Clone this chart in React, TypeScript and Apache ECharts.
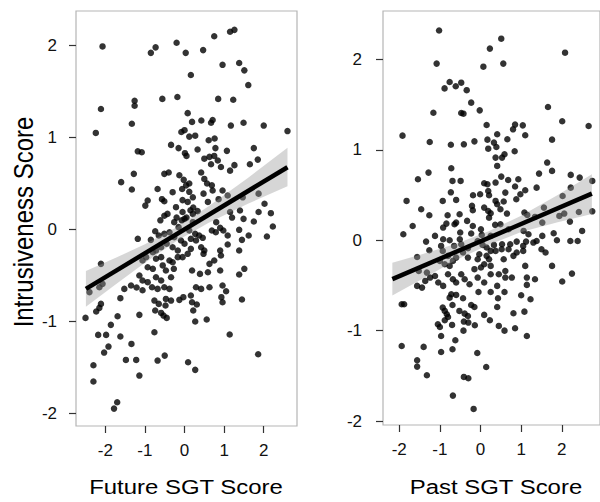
import React, { useEffect, useRef } from "react";
import * as echarts from "echarts";

// Tick positions shared by both panels
const tickValues = [-2, -1, 0, 1, 2];

// Future SGT score (x) vs intrusiveness score (y)
const futurePoints: number[][] = [
  [-2.07, 1.99], [-0.85, 1.92], [-0.73, 1.98], [-0.2, 2.03], [0.03, 1.92], [0.47, 1.95], [0.75, 2.1],
  [1.15, 2.15], [1.26, 2.17], [0.96, 1.79], [1.38, 1.81], [1.51, 1.73], [1.61, 1.57], [0.16, 1.68],
  [-2.11, 1.31], [-1.26, 1.4], [-1.26, 1.345], [-0.56, 1.42], [-0.18, 1.44], [0.85, 1.42], [1.23, 1.41],
  [-2.24, 1.05], [-1.33, 1.15], [0.08, 1.265], [0.19, 1.17], [0.425, 1.185], [0.67, 1.16], [0.71, 1.19],
  [1.17, 1.13], [1.49, 1.16], [2.0, 1.13], [2.6, 1.07], [-0.08, 1.06], [0.0, 1.08], [0.12, 1.01],
  [0.27, 1.02], [0.61, 0.97], [0.76, 0.99], [-0.34, 0.92], [-0.15, 0.885], [0.33, 0.87], [0.78, 0.885],
  [1.07, 0.855], [1.75, 0.885], [-1.18, 0.85], [-1.08, 0.84], [0.01, 0.83], [0.05, 0.8],
  [0.5, 0.77], [0.63, 0.79], [0.75, 0.8], [0.84, 0.75], [0.67, 0.71], [0.92, 0.68], [1.15, 0.64],
  [1.26, 0.7], [1.65, 0.71], [1.85, 0.76], [-1.28, 0.605], [-1.6, 0.515], [-1.33, 0.435], [-0.51, 0.605],
  [-0.4, 0.62], [-0.13, 0.59], [-0.02, 0.54], [0.12, 0.5], [0.42, 0.62], [0.5, 0.55], [0.57, 0.5],
  [0.69, 0.48], [0.71, 0.424], [0.96, 0.424], [-0.68, 0.44], [-0.3, 0.406], [-0.06, 0.44], [0.04, 0.48],
  [0.12, 0.41], [0.21, 0.35], [0.08, 0.3], [-0.05, 0.32], [-0.215, 0.243], [0.48, 0.39], [1.09, 0.37],
  [1.47, 0.35], [1.87, 0.39], [-0.93, 0.315], [-0.99, 0.26], [-0.57, 0.33], [-0.51, 0.308], [0.59, 0.3],
  [0.86, 0.33], [2.02, 0.28], [0.15, 0.21], [0.22, 0.24], [0.33, 0.2], [-0.43, 0.17], [-0.51, 0.15],
  [-0.05, 0.19], [-0.2, 0.13], [0.05, 0.13], [0.21, 0.17], [-0.61, 0.1], [-0.26, 0.08], [-0.15, 0.026],
  [-0.07, 0.1], [0.0, 0.116], [0.21, 0.08], [0.8, 0.08], [1.15, 0.19], [1.2, 0.13], [1.4, 0.207],
  [1.49, 0.116], [1.75, 0.087], [1.87, 0.19], [2.18, 0.178], [2.23, 0.033], [2.08, -0.076], [-0.74, -0.018],
  [-0.38, -0.029], [-0.85, -0.112], [-1.18, -0.101], [-0.65, -0.065], [-0.51, -0.047], [-0.26, -0.083],
  [0.12, -0.011], [0.27, -0.047], [0.37, -0.065], [0.46, -0.09], [0.69, -0.011], [0.79, -0.029],
  [0.9, 0.018], [0.98, -0.011], [1.09, -0.065], [1.38, -0.003], [1.62, -0.065], [1.45, -0.112],
  [1.09, -0.163], [0.16, -0.101], [0.29, -0.119], [-0.09, -0.119], [0.0, -0.155], [-0.45, -0.155],
  [-0.72, -0.228], [-0.59, -0.192], [-0.8, -0.246], [-0.3, -0.192], [-0.17, -0.228], [0.16, -0.21],
  [0.42, -0.192], [0.5, -0.228], [0.48, -0.264], [0.08, -0.264], [-0.05, -0.3], [0.9, -0.228],
  [1.38, -0.228], [-0.97, -0.3], [-1.06, -0.337], [-0.72, -0.318], [-0.59, -0.3], [-0.38, -0.337],
  [-0.3, -0.355], [-0.17, -0.3], [0.75, -0.337], [0.92, -0.282], [0.63, -0.373], [-2.11, -0.373],
  [-0.93, -0.41], [-0.8, -0.427], [-0.55, -0.39], [-0.47, -0.445], [-0.27, -0.427], [0.19, -0.445],
  [0.39, -0.482], [0.59, -0.464], [0.9, -0.445], [1.51, -0.427], [1.38, -0.489], [-1.14, -0.5],
  [-1.06, -0.554], [-0.93, -0.572], [-0.72, -0.518], [-0.59, -0.554], [-0.34, -0.518], [-1.35, -0.608],
  [-1.52, -0.645], [-2.07, -0.59], [-2.15, -0.627], [-0.82, -0.627], [-0.68, -0.645], [-0.51, -0.627],
  [-0.38, -0.645], [0.29, -0.627], [0.42, -0.645], [0.63, -0.627], [0.96, -0.608], [-1.21, -0.63],
  [-1.06, -0.66], [-2.4, -0.68], [1.05, -0.67],
  [-1.62, -0.746], [-2.11, -0.808], [-2.15, -0.851], [-2.23, -0.891], [-2.5, -0.96], [-1.69, -0.942],
  [-1.86, -1.036], [-1.14, -0.927], [-0.76, -0.772], [-0.65, -0.808], [-0.47, -0.754], [-0.34, -0.772],
  [-0.48, -0.826], [-0.74, -0.88], [-0.59, -0.906], [-0.53, -0.935], [-0.45, -0.96], [-0.13, -0.764],
  [-0.03, -0.735], [0.16, -0.717], [0.19, -0.79], [0.31, -0.815], [0.22, -0.88], [0.27, -1.0],
  [0.56, -0.978], [0.93, -0.735], [0.96, -0.79], [1.45, -0.76], [-2.18, -1.145], [-1.98, -1.145],
  [-1.62, -1.163], [-1.92, -1.272], [-2.03, -1.337], [-1.34, -1.243], [-0.76, -1.116], [1.14, -1.141],
  [-2.3, -1.475], [-1.48, -1.417], [-1.22, -1.417], [-0.68, -1.424], [-0.5, -1.37], [0.09, -1.442],
  [0.27, -1.525], [-1.14, -1.587], [1.86, -1.355], [-2.3, -1.652], [-1.7, -1.877], [-1.78, -1.946],
];

// Past SGT score (x) vs intrusiveness score (y)
const pastPoints: number[][] = [
  [-1.02, 2.32], [0.51, 2.23], [0.23, 2.12], [2.08, 2.075], [-1.08, 1.954], [0.07, 1.92], [0.56, 1.954],
  [-0.76, 1.75], [-0.475, 1.743], [-0.885, 1.68], [-0.61, 1.703], [-0.34, 1.66], [-0.23, 1.522],
  [-1.16, 1.41], [-0.475, 1.408], [-0.42, 1.4], [-0.02, 1.437], [1.66, 1.474], [2.01, 1.316],
  [2.66, 1.264], [0.15, 1.275], [0.85, 1.279], [0.8, 1.227], [1.04, 1.271], [1.1, 1.161], [0.41, 1.172],
  [0.66, 1.117], [-1.92, 1.157], [-1.25, 1.087], [-0.73, 1.057], [-0.41, 1.061], [-0.15, 1.094],
  [0.17, 1.113], [0.33, 1.08], [0.39, 1.032], [0.19, 1.013], [0.84, 0.984], [1.76, 1.113],
  [0.37, 0.914], [0.41, 0.822], [0.53, 0.914], [0.59, 0.951], [-0.72, 0.796], [-1.28, 0.748],
  [-1.54, 0.675], [-1.82, 0.435], [-1.46, 0.343], [-1.26, 0.276], [-1.67, 0.158], [-1.9, 0.066],
  [-0.69, 0.656], [-0.49, 0.656], [-0.73, 0.53], [-0.6, 0.446], [-0.93, 0.435], [-0.185, 0.498],
  [-0.01, 0.509], [0.09, 0.63], [0.17, 0.62], [0.19, 0.545], [0.21, 0.498], [0.37, 0.638], [0.51, 0.704],
  [0.68, 0.667], [0.85, 0.594], [0.93, 0.675], [1.1, 0.553], [0.98, 0.509], [1.44, 0.737], [1.64, 0.859],
  [1.76, 0.767], [1.38, 0.582], [2.22, 0.723], [0.37, 0.435], [0.41, 0.398], [0.61, 0.527], [0.57, 0.428],
  [0.88, 0.453], [-0.21, 0.38], [-0.19, 0.332], [0.09, 0.361], [0.19, 0.324], [0.25, 0.298], [0.49, 0.343],
  [0.65, 0.295], [-0.81, 0.276], [-0.515, 0.287], [-0.6, 0.195], [-0.64, 0.177], [-0.33, 0.214],
  [-0.84, 0.184], [-0.92, 0.14], [-0.19, 0.158], [0.01, 0.121], [0.21, 0.25], [0.36, 0.17], [0.49, 0.177],
  [-0.5, 0.085], [-0.51, 0.011], [-0.23, 0.074], [0.03, 0.059], [0.25, 0.048], [0.69, 0.121], [1.08, 0.306],
  [1.15, 0.28], [1.34, 0.258], [1.56, 0.361], [1.52, 0.195], [2.02, 0.49], [2.22, 0.582], [2.44, 0.693],
  [2.75, 0.656], [1.94, 0.269], [2.06, 0.295], [2.42, 0.313], [2.2, 0.206], [2.5, 0.103], [1.88, 0.0],
  [2.21, -0.008], [2.39, -0.008], [1.8, 0.077], [1.52, 0.048], [1.06, 0.103], [1.18, 0.066], [1.38, -0.008],
  [-1.34, -0.015], [-1.12, 0.048], [-0.92, 0.011], [-0.97, -0.063], [-1.26, -0.111], [-1.56, -0.185],
  [-0.93, -0.118], [-0.76, 0.0], [-0.65, -0.063], [-0.475, -0.044], [-0.31, -0.089], [-0.07, -0.008],
  [0.05, -0.052], [0.15, -0.081], [0.25, -0.118], [0.33, -0.052], [0.53, -0.044], [0.52, -0.1],
  [0.73, -0.044], [0.69, -0.1], [0.89, -0.015], [1.05, -0.063], [1.12, -0.015], [1.3, -0.026],
  [0.89, -0.136], [0.81, -0.173], [1.05, -0.118], [1.5, -0.1], [1.6, -0.136], [-0.43, -0.136],
  [-0.31, -0.192], [-0.03, -0.155], [-0.07, -0.21], [0.15, -0.173], [0.21, -0.21], [0.37, -0.118],
  [0.57, -0.21], [-0.8, -0.173], [-0.68, -0.229], [-0.6, -0.192], [-0.88, -0.266], [-0.76, -0.284],
  [-1.0, -0.229], [-1.52, -0.34], [-1.32, -0.358], [-1.36, -0.45], [-1.24, -0.413], [-1.56, -0.505],
  [-1.44, -0.524], [-1.12, -0.395], [-1.04, -0.468], [-0.92, -0.505], [-0.8, -0.376], [-0.68, -0.432],
  [-0.6, -0.468], [-0.475, -0.376], [-0.39, -0.432], [-0.27, -0.487], [-0.15, -0.32], [0.01, -0.302],
  [0.09, -0.266], [-0.07, -0.413], [0.09, -0.468], [0.25, -0.284], [0.25, -0.376], [0.41, -0.505],
  [0.45, -0.376], [0.61, -0.34], [0.61, -0.413], [0.77, -0.413], [1.1, -0.284], [1.14, -0.413],
  [1.34, -0.432], [1.14, -0.494], [1.76, -0.284], [2.25, -0.369], [2.01, -0.457], [2.75, 0.32],
  [-0.72, -0.598], [-0.6, -0.605], [-0.05, -0.572], [0.25, -0.572], [0.59, -0.572], [1.0, -0.609],
  [1.23, -0.653], [0.43, -0.642], [-1.94, -0.708], [-1.88, -0.708], [-0.76, -0.635], [-0.69, -0.716],
  [-0.43, -0.642], [-0.52, -0.782], [-0.23, -0.716], [-0.15, -0.738], [-0.93, -0.745], [-0.88, -0.782],
  [-0.83, -0.819], [-0.39, -0.812], [-0.31, -0.838], [-0.8, -0.849], [-0.88, -0.885], [-1.05, -0.93],
  [-1.0, -0.96], [-0.7, -0.937], [-0.41, -0.9], [-0.3, -0.911], [-0.42, -1.0], [-0.14, -0.941],
  [0.09, -0.826], [0.23, -0.885], [0.41, -0.738], [0.45, -0.948], [0.59, -1.0], [0.81, -0.808],
  [0.85, -0.974], [1.08, -0.79], [1.14, -1.059], [-0.97, -1.059], [-0.62, -1.107], [-1.94, -1.17],
  [-1.4, -1.18], [-0.97, -1.236], [-0.69, -1.206], [-0.08, -1.247], [-1.56, -1.328], [-1.56, -1.398],
  [-1.32, -1.494], [0.14, -1.402], [-0.41, -1.512], [-0.3, -1.527], [-0.68, -1.719], [-0.17, -1.866],
];

// Linear fit end points
const futureFit = [[-2.49, -0.645], [2.6, 0.677]];
const pastFit = [[-2.17, -0.43], [2.74, 0.515]];

// Confidence band: [x, lower, upper]
const futureBand = [
  [-2.49, -0.84, -0.45], [-1.75, -0.6, -0.31], [-1.0, -0.36, -0.16], [-0.2, -0.125, 0.025],
  [0.6, 0.07, 0.25], [1.6, 0.28, 0.56], [2.6, 0.47, 0.89],
];
const pastBand = [
  [-2.17, -0.61, -0.25], [-1.4, -0.42, -0.15], [-0.6, -0.22, -0.04], [0.2, -0.05, 0.1],
  [1.0, 0.09, 0.27], [1.9, 0.2, 0.5], [2.74, 0.29, 0.73],
];

const FONT = '"Liberation Sans", Arial, Helvetica, sans-serif';

function bandSeries(band: number[][], idx: number) {
  return {
    type: "custom",
    xAxisIndex: idx,
    yAxisIndex: idx,
    z: 3,
    silent: true,
    data: band,
    encode: { x: 0, y: [1, 2] },
    renderItem: (params: any, api: any) => {
      if (params.dataIndex !== 0) return null;
      const upper = band.map((r) => api.coord([r[0], r[2]]));
      const lower = band
        .slice()
        .reverse()
        .map((r) => api.coord([r[0], r[1]]));
      return {
        type: "polygon",
        shape: { points: upper.concat(lower) },
        style: { fill: "rgba(153,153,153,0.4)", stroke: "none" },
      };
    },
  };
}

function xAxis(idx: number, min: number, max: number) {
  return {
    gridIndex: idx,
    type: "value",
    min,
    max,
    axisLine: { show: false, onZero: false },
    splitLine: { show: false },
    axisTick: {
      show: true,
      length: 7,
      customValues: tickValues,
      lineStyle: { color: "#333", width: 1.2 },
    },
    axisLabel: {
      customValues: tickValues,
      fontSize: 17,
      fontFamily: FONT,
      color: "#111",
      margin: 16,
    },
  };
}

function yAxis(idx: number, min: number, max: number, margin: number) {
  return {
    gridIndex: idx,
    type: "value",
    min,
    max,
    axisLine: { show: false, onZero: false },
    splitLine: { show: false },
    axisTick: {
      show: true,
      length: 7,
      customValues: tickValues,
      lineStyle: { color: "#333", width: 1.2 },
    },
    axisLabel: {
      customValues: tickValues,
      fontSize: 17,
      fontFamily: FONT,
      color: "#111",
      margin,
    },
  };
}

export default function App() {
  const ref = useRef<HTMLDivElement>(null);

  useEffect(() => {
    if (!ref.current) return;
    const chart = echarts.init(ref.current, undefined, { renderer: "svg" });
    const gridStyle = {
      show: true,
      borderColor: "#b5b5b5",
      borderWidth: 1.2,
      backgroundColor: "transparent",
    };
    chart.setOption({
      animation: false,
      backgroundColor: "#ffffff",
      textStyle: { fontFamily: FONT },
      grid: [
        { left: 76, top: 11, width: 221, height: 415, ...gridStyle },
        { left: 383, top: 11, width: 221, height: 414, ...gridStyle },
      ],
      xAxis: [xAxis(0, -2.74, 2.84), xAxis(1, -2.4, 2.94)],
      yAxis: [yAxis(0, -2.135, 2.375, 19), yAxis(1, -2.044, 2.536, 21)],
      series: [
        {
          type: "scatter",
          xAxisIndex: 0,
          yAxisIndex: 0,
          z: 2,
          symbolSize: 6.5,
          itemStyle: { color: "#000" },
          data: futurePoints,
        },
        bandSeries(futureBand, 0),
        {
          type: "line",
          xAxisIndex: 0,
          yAxisIndex: 0,
          z: 4,
          symbol: "none",
          lineStyle: { color: "#000", width: 4.5 },
          data: futureFit,
        },
        {
          type: "scatter",
          xAxisIndex: 1,
          yAxisIndex: 1,
          z: 2,
          symbolSize: 6.5,
          itemStyle: { color: "#000" },
          data: pastPoints,
        },
        bandSeries(pastBand, 1),
        {
          type: "line",
          xAxisIndex: 1,
          yAxisIndex: 1,
          z: 4,
          symbol: "none",
          lineStyle: { color: "#000", width: 4.5 },
          data: pastFit,
        },
      ],
      graphic: [
        {
          type: "text",
          x: 186,
          y: 487.5,
          scaleX: 1.14,
          style: {
            text: "Future SGT Score",
            font: `21px ${FONT}`,
            fill: "#000",
            align: "center",
            verticalAlign: "middle",
          },
        },
        {
          type: "text",
          x: 496,
          y: 487.5,
          scaleX: 1.14,
          style: {
            text: "Past SGT Score",
            font: `21px ${FONT}`,
            fill: "#000",
            align: "center",
            verticalAlign: "middle",
          },
        },
        {
          type: "text",
          x: 23,
          y: 222,
          rotation: Math.PI / 2,
          scaleY: 1.15,
          style: {
            text: "Intrusiveness Score",
            font: `24px ${FONT}`,
            fill: "#000",
            align: "center",
            verticalAlign: "middle",
          },
        },
      ],
    });
    return () => chart.dispose();
  }, []);

  return (
    <div
      ref={ref}
      style={{ position: "absolute", left: 0, top: 0, width: 600, height: 502 }}
    />
  );
}
